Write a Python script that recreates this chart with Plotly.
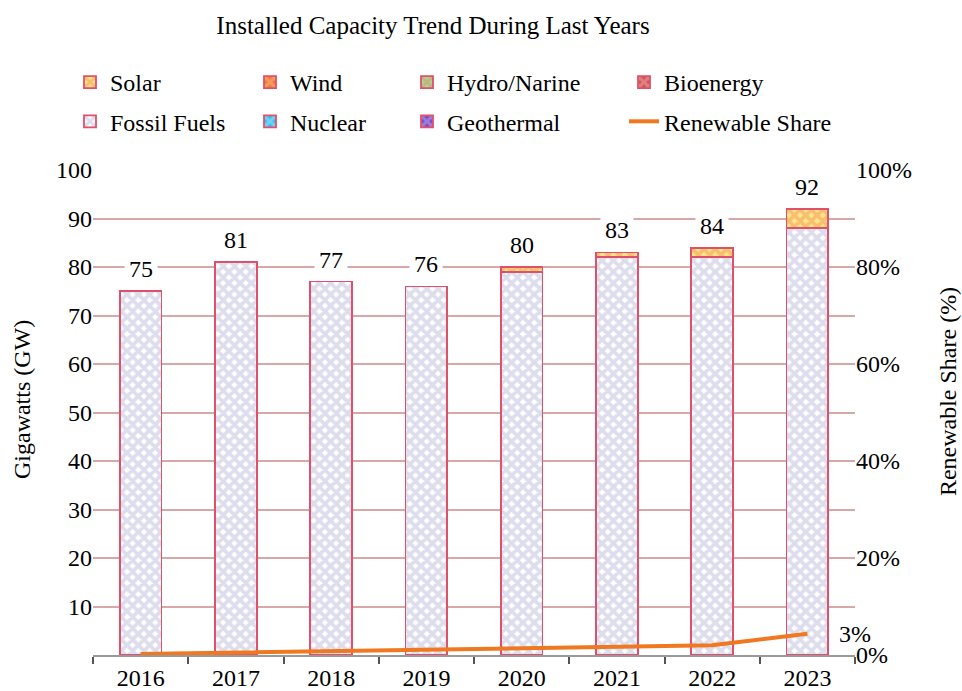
import plotly.graph_objects as go

years = ["2016", "2017", "2018", "2019", "2020", "2021", "2022", "2023"]
fossil = [75, 81, 77, 76, 79, 82, 82, 88]
solar = [0, 0, 0, 0, 1, 1, 2, 4]
wind = [0, 0, 0, 0, 0, 0, 0, 0]
hydro = [0, 0, 0, 0, 0, 0, 0, 0]
bio = [0, 0, 0, 0, 0, 0, 0, 0]
nuclear = [0, 0, 0, 0, 0, 0, 0, 0]
geo = [0, 0, 0, 0, 0, 0, 0, 0]
share = [0.2, 0.5, 0.7, 1.0, 1.2, 1.6, 2.0, 4.4]
total_labels = ["75", "81", "77", "76", "80", "83", "84", "92"]
share_label = "3%"
left_ticks = [10, 20, 30, 40, 50, 60, 70, 80, 90, 100]
right_ticks = [0, 20, 40, 60, 80, 100]
right_ticktext = [f"{v}%" for v in right_ticks]

FONT = "Liberation Serif"
FS = 24
W, H = 962, 691
OUTLINE = "#e0506a"

fig = go.Figure()

# (name, values, bg, fg, legend, rank)
series = [
    ("Fossil Fuels", fossil, "#ffffff", "#bcbcdc", "legend", 2),
    ("Nuclear", nuclear, "#3cbcf0", "#a8e6ff", "legend2", 2),
    ("Bioenergy", bio, "#d05858", "#f0a8a8", "legend4", 1),
    ("Geothermal", geo, "#7c4cc0", "#c4a8ec", "legend3", 2),
    ("Hydro/Narine", hydro, "#a8d890", "#d89078", "legend3", 1),
    ("Wind", wind, "#f07c3c", "#f8b880", "legend2", 1),
    ("Solar", solar, "#fbe58a", "#f39a55", "legend", 1),
]
for name, vals, bg, fg, lg, rank in series:
    fig.add_trace(go.Bar(
        x=years, y=vals, name=name, legend=lg, legendrank=rank,
        legendgroup=name,
        marker=dict(color=bg, line=dict(color=OUTLINE, width=1.8),
                    pattern=dict(shape="x", bgcolor=bg, fgcolor=fg,
                                 size=8, solidity=0.72)),
        width=0.44,
    ))

fig.add_trace(go.Scatter(
    x=years, y=share, name="Renewable Share", yaxis="y2",
    mode="lines", line=dict(color="#f07820", width=4),
    legend="legend4", legendrank=2, legendgroup="share",
))

# total labels (x as category index so numeric-looking names are not
# read as positions)
for i, (fv, sv, lab) in enumerate(zip(fossil, solar, total_labels)):
    fig.add_annotation(x=i, y=fv + sv, xref="x", yref="y", text=lab,
                       showarrow=False, yshift=22, bgcolor="white",
                       borderpad=4,
                       font=dict(family=FONT, size=FS, color="black"))

fig.add_annotation(x=len(years) - 1, y=share[-1], xref="x", yref="y2",
                   text=share_label, showarrow=False, xanchor="left",
                   xshift=30, yshift=0,
                   font=dict(family=FONT, size=FS, color="black"))

# axis titles
fig.add_annotation(x=-0.093, y=0.526, xref="paper", yref="paper",
                   xanchor="center", yanchor="middle",
                   text="Gigawatts (GW)", textangle=-90, showarrow=False,
                   font=dict(family=FONT, size=FS, color="black"))
fig.add_annotation(x=1.122, y=0.544, xref="paper", yref="paper",
                   xanchor="center", yanchor="middle",
                   text="Renewable Share (%)", textangle=-90,
                   showarrow=False,
                   font=dict(family=FONT, size=FS, color="black"))

leg_common = dict(orientation="v", xref="container", yref="container",
                  yanchor="top", xanchor="left", bgcolor="rgba(0,0,0,0)",
                  font=dict(family=FONT, size=FS, color="black"),
                  traceorder="grouped", tracegroupgap=5, itemwidth=30)
y_leg = 1 - 60 / H

fig.update_layout(
    width=W, height=H,
    margin=dict(l=93, r=107, t=170, b=36, autoexpand=False),
    paper_bgcolor="white", plot_bgcolor="white",
    barmode="stack",
    font=dict(family=FONT, size=FS, color="black"),
    title=dict(text="Installed Capacity Trend During Last Years",
               x=433 / W, xref="container", xanchor="center",
               y=1 - 25 / H, yref="container", yanchor="middle",
               font=dict(family=FONT, size=25, color="black")),
    legend=dict(x=70 / W, y=y_leg, **leg_common),
    legend2=dict(x=250 / W, y=y_leg, **leg_common),
    legend3=dict(x=407 / W, y=y_leg, **leg_common),
    legend4=dict(x=624 / W, y=y_leg, **leg_common),
    xaxis=dict(type="category", range=[-0.5, len(years) - 0.5],
               showgrid=False, showline=True,
               linecolor="#9a9a9a", linewidth=2, ticks="outside",
               tickson="boundaries", ticklen=7, tickwidth=2,
               tickcolor="#555555",
               tickfont=dict(family=FONT, size=FS, color="black")),
    yaxis=dict(range=[0, 100], tickvals=left_ticks, showline=False,
               showgrid=True, gridcolor="#d8a8a8", gridwidth=2,
               zeroline=False, ticks="",
               tickfont=dict(family=FONT, size=FS, color="black")),
    yaxis2=dict(range=[0, 100], tickmode="array", tickvals=right_ticks,
                ticktext=right_ticktext,
                overlaying="y", side="right", showgrid=False,
                zeroline=False, showline=False, ticks="",
                tickfont=dict(family=FONT, size=FS, color="black")),
)

fig.write_html("out.html", config={"displayModeBar": False},
               post_script="document.body.style.margin='0px';")
